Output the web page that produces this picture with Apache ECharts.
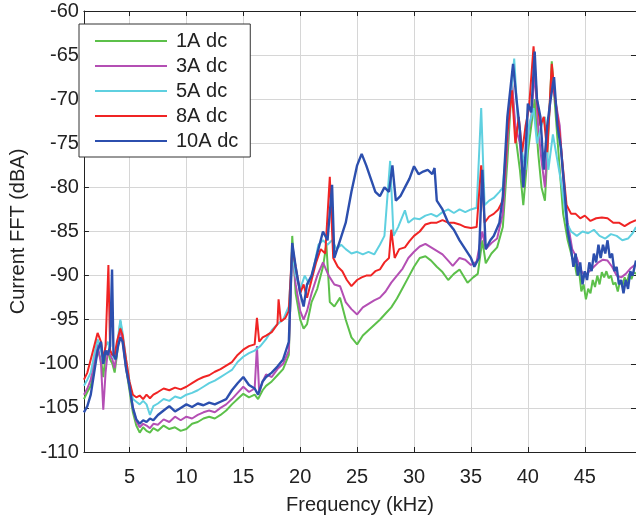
<!DOCTYPE html>
<html><head><meta charset="utf-8">
<script src="https://cdn.jsdelivr.net/npm/echarts@6/dist/echarts.min.js"></script>
<style>html,body{margin:0;padding:0;background:#fff}#c{width:636px;height:520px}</style>
</head><body><div id="c"></div>
<script>
const seriesNames = ['1A dc','3A dc','5A dc','8A dc','10A dc'];
const xTicks = [5,10,15,20,25,30,35,40,45];
const yTicks = [-110,-105,-100,-95,-90,-85,-80,-75,-70,-65,-60];

const s1A = [[1,-104],[1.3,-103.2],[1.6,-102.5],[1.9,-100.5],[2.2,-98.5],[2.5,-99.5],[2.7,-101.5],[2.9,-99],[3.1,-98.5],[3.3,-99.5],[3.5,-100],[3.7,-101],[3.9,-99],[4.2,-95.2],[4.4,-97],[4.7,-100.5],[5,-103],[5.3,-105.5],[5.6,-107],[5.9,-107.8],[6.2,-107.2],[6.5,-107.6],[6.8,-107.8],[7.1,-107.3],[7.5,-107.6],[8,-107],[8.5,-107.4],[9,-107.2],[9.5,-107.6],[10,-107.4],[10.5,-106.8],[11,-106.6],[11.5,-106.2],[12,-106],[12.5,-106.2],[13,-105.8],[13.5,-105.3],[14,-104.6],[14.5,-104],[15,-103.4],[15.5,-103.8],[16,-103.5],[16.3,-104],[16.7,-103],[17,-102.5],[17.5,-102],[18,-101.3],[18.5,-100.6],[19,-99],[19.3,-85.5],[19.6,-92],[20,-95],[20.3,-96],[20.6,-95.5],[21,-93],[21.5,-91.5],[22,-89],[22.3,-86.5],[22.6,-93],[23,-93.5],[23.5,-92.5],[24,-95],[24.5,-97],[25,-97.8],[25.5,-96.8],[26,-96.2],[26.5,-95.6],[27,-95],[27.5,-94.3],[28,-93.6],[28.5,-92.6],[29,-91.4],[29.5,-90.2],[30,-89],[30.5,-88],[31,-87.8],[31.5,-88.3],[32,-89],[32.5,-89.6],[33,-90.5],[33.5,-89.8],[34,-89.3],[34.7,-90.8],[35.2,-90.2],[35.6,-89.8],[36,-86],[36.3,-88.6],[36.8,-87.5],[37.3,-86.8],[37.8,-84.5],[38.2,-77],[38.6,-68],[38.9,-74],[39.3,-78],[39.6,-82],[40,-76],[40.3,-73],[40.6,-70],[40.9,-76],[41.2,-80],[41.5,-81.5],[41.8,-74],[42.1,-65.7],[42.4,-71],[42.8,-78],[43.1,-83],[43.5,-86],[43.9,-88],[44.1,-88.5],[44.3,-90],[44.5,-89.5],[44.7,-91.8],[44.9,-91],[45.1,-92.7],[45.3,-91.5],[45.5,-92],[45.7,-90.5],[45.9,-91.3],[46.1,-90],[46.3,-91],[46.5,-89.6],[46.7,-90.2],[46.9,-89.5],[47.1,-90.3],[47.3,-90],[47.5,-91],[47.7,-90.8],[47.9,-91.8],[48.1,-90.6],[48.3,-91.2],[48.5,-90.2],[48.7,-90.8],[48.9,-89.8],[49.1,-90.4],[49.3,-89.6],[49.5,-89.8]];

const s3A = [[1,-103.5],[1.3,-102.8],[1.6,-101.8],[1.9,-99.8],[2.2,-97.8],[2.5,-100],[2.7,-105.2],[2.9,-101],[3.1,-98.5],[3.3,-99],[3.5,-99.5],[3.7,-100.5],[3.9,-98.5],[4.2,-96],[4.4,-97.5],[4.7,-100.5],[5,-102.5],[5.3,-105],[5.6,-106.5],[5.9,-107.2],[6.2,-106.8],[6.5,-107],[6.8,-107.3],[7.1,-106.8],[7.5,-106.9],[8,-106.3],[8.5,-106.6],[9,-106],[9.5,-106.4],[10,-106],[10.5,-106.2],[11,-105.8],[11.5,-105.5],[12,-105.3],[12.5,-105.5],[13,-105],[13.5,-104.6],[14,-104],[14.5,-103.3],[15,-102.6],[15.5,-103.2],[16,-102.8],[16.2,-98],[16.4,-103.3],[16.7,-102],[17,-101.2],[17.5,-101.5],[18,-100.6],[18.5,-100],[19,-98.5],[19.3,-87],[19.6,-91],[20,-94],[20.3,-95],[20.6,-94],[21,-92],[21.5,-90],[22,-88.5],[22.5,-90],[23,-91],[23.5,-91.2],[24,-93],[24.5,-93.8],[25,-94.4],[25.5,-93.6],[26,-93.2],[26.5,-92.8],[27,-92.5],[27.5,-91.8],[28,-90.8],[28.5,-90],[29,-89.2],[29.5,-88],[30,-87.3],[30.5,-86.7],[31,-86.4],[31.5,-86.8],[32,-87.2],[32.5,-87.6],[33,-88.3],[33.4,-88.9],[34,-88],[34.5,-88.2],[35,-88.8],[35.5,-88.4],[36,-85],[36.3,-87],[36.8,-86.3],[37.3,-85.8],[37.8,-83],[38.2,-75],[38.6,-68],[38.9,-73],[39.3,-75],[39.6,-80],[40,-74],[40.3,-72],[40.6,-67],[40.9,-73],[41.2,-77],[41.5,-80],[41.8,-73],[42.1,-68],[42.4,-70],[42.8,-73],[43.1,-79],[43.5,-84],[43.9,-87],[44.3,-88],[44.7,-89.5],[45,-90],[45.4,-89.5],[45.8,-89],[46.2,-88.5],[46.6,-88.2],[47,-88.3],[47.4,-89],[47.8,-90],[48.2,-90.2],[48.6,-89.8],[49,-89.2],[49.5,-88.7]];

const s5A = [[1,-102.5],[1.3,-101.8],[1.6,-101],[1.9,-99],[2.2,-97.2],[2.5,-98.5],[2.7,-100],[2.9,-98],[3.1,-97.5],[3.3,-98.5],[3.5,-99],[3.7,-99.5],[3.9,-98],[4.2,-95],[4.4,-96.5],[4.7,-99.5],[5,-102],[5.3,-104],[5.6,-104.3],[5.9,-104.6],[6.2,-104.2],[6.5,-104.6],[6.8,-105.8],[7.1,-104.8],[7.5,-104.5],[8,-104],[8.5,-104.2],[9,-103.7],[9.5,-103.9],[10,-103.5],[10.5,-103.3],[11,-103],[11.5,-102.6],[12,-102.2],[12.5,-101.9],[13,-101.5],[13.5,-101.1],[14,-100.7],[14.5,-99.8],[15,-99.2],[15.5,-98.8],[16,-98.5],[16.5,-98],[17,-97.2],[17.5,-96.2],[18,-95.5],[18.5,-95],[19,-93.5],[19.3,-87.5],[19.6,-90],[20,-91.5],[20.4,-90],[20.8,-91],[21.2,-89],[21.6,-86.5],[22,-86],[22.4,-86.5],[22.8,-86],[23.2,-87],[23.6,-86.5],[24,-87],[24.5,-87.5],[25,-87.3],[25.5,-87.6],[26,-87.3],[26.5,-87.6],[27,-86.5],[27.4,-85.5],[27.9,-77],[28.2,-85.5],[28.6,-84.5],[29.2,-82.6],[29.5,-84],[30,-83.5],[30.5,-83.6],[31,-83.2],[31.5,-83],[32,-83.3],[32.5,-82.8],[33,-82.5],[33.5,-82.9],[34,-82.5],[34.5,-82.8],[35,-82.5],[35.5,-82.3],[35.9,-71],[36.2,-82],[36.6,-81.5],[37,-81.2],[37.5,-80.5],[37.8,-80],[38.2,-74],[38.8,-65.4],[39.1,-72],[39.5,-76],[39.8,-78],[40.1,-73],[40.5,-71],[40.8,-75],[41.2,-73],[41.5,-72],[41.8,-78],[42.2,-74],[42.6,-77],[43,-80],[43.4,-84],[43.8,-85],[44.3,-85.5],[44.8,-85],[45.3,-85.2],[45.8,-84.8],[46.3,-85.5],[46.8,-85.8],[47.3,-85.3],[47.8,-85.5],[48.3,-86],[48.8,-85.8],[49.2,-85.2],[49.5,-84.5]];

const s8A = [[1,-101.8],[1.3,-101],[1.6,-99.5],[1.9,-98],[2.2,-96.5],[2.5,-97.5],[2.7,-99.5],[2.9,-98],[3.15,-88.8],[3.3,-98.5],[3.5,-99],[3.7,-99],[3.9,-97.5],[4.2,-96],[4.4,-96.8],[4.7,-99.5],[5,-102],[5.3,-103.5],[5.6,-103.8],[5.9,-103.6],[6.2,-104],[6.5,-103.5],[6.8,-103.9],[7.1,-103.5],[7.5,-103.2],[8,-102.8],[8.5,-103],[9,-102.7],[9.5,-102.9],[10,-102.6],[10.5,-102.2],[11,-101.8],[11.5,-101.5],[12,-101.3],[12.5,-100.9],[13,-100.6],[13.5,-100.2],[14,-99.8],[14.5,-99],[15,-98.4],[15.5,-98],[16,-97.8],[16.2,-94.8],[16.4,-97.5],[16.7,-97],[17,-96.8],[17.5,-96.4],[18,-95.5],[18.1,-92.7],[18.3,-95.2],[18.7,-94.8],[19,-94],[19.3,-86.7],[19.6,-89],[20,-92],[20.3,-91],[20.6,-92.5],[21,-90.5],[21.4,-88.5],[21.8,-87],[22.2,-87.5],[22.6,-78.8],[22.9,-88],[23.3,-89],[23.7,-89.5],[24.1,-90.5],[24.5,-91.2],[25,-90.5],[25.4,-90.2],[25.8,-90],[26.2,-90],[26.6,-89.5],[27,-89.3],[27.4,-88.5],[27.8,-88],[28,-84.8],[28.3,-88],[28.7,-87],[29.2,-86.8],[29.6,-86.1],[30,-85.5],[30.5,-85],[31,-84.2],[31.5,-84],[32,-84],[32.5,-83.7],[33,-84],[33.5,-84],[34,-84.2],[34.5,-84.5],[35,-84.6],[35.5,-84.5],[35.9,-77.5],[36.2,-84],[36.6,-83.3],[37,-83],[37.4,-82.5],[37.8,-81.5],[38.2,-74],[38.6,-69],[38.9,-75],[39.2,-72],[39.5,-76],[39.8,-73],[40.1,-71],[40.5,-64],[40.8,-70],[41.1,-73],[41.4,-72],[41.7,-76],[42.1,-66],[42.4,-70],[42.8,-74],[43.1,-78],[43.4,-82],[43.8,-83],[44.2,-83],[44.6,-83.5],[45,-83.2],[45.5,-83.8],[46,-83.5],[46.5,-83.4],[47,-83.5],[47.5,-84],[48,-84],[48.5,-84.4],[49,-84],[49.5,-83.7]];

const s10A = [[1,-105.5],[1.3,-104.8],[1.6,-103.5],[1.9,-101],[2.2,-98.5],[2.5,-97.5],[2.7,-100],[2.9,-98.5],[3.1,-99],[3.3,-98],[3.47,-89.3],[3.6,-99],[3.8,-99.5],[4,-98],[4.2,-97],[4.4,-97.5],[4.7,-100.5],[5,-102.5],[5.3,-105],[5.6,-106.3],[5.9,-106.8],[6.2,-106.4],[6.5,-106.6],[6.8,-106.2],[7.1,-106.4],[7.5,-105.8],[8,-105.3],[8.5,-104.8],[9,-105.4],[9.5,-105],[10,-104.6],[10.5,-104.9],[11,-104.5],[11.5,-104.7],[12,-104.4],[12.5,-104.6],[13,-104.3],[13.5,-104],[14,-103],[14.5,-102.2],[15,-101.5],[15.5,-102.4],[16,-102.8],[16.3,-103.5],[16.7,-102],[17,-101.5],[17.5,-101],[18,-100.3],[18.5,-99.5],[19,-97.5],[19.3,-86.3],[19.6,-89],[20,-92],[20.3,-93.5],[20.6,-91],[21,-90],[21.5,-87.5],[22,-85],[22.4,-86],[22.8,-79.7],[23,-88],[23.5,-86],[24,-84],[24.5,-80.5],[25,-77.5],[25.4,-76.2],[25.8,-77.5],[26.2,-79],[26.6,-80.5],[27,-81],[27.4,-80],[27.8,-80.5],[28.1,-77.5],[28.4,-81.5],[28.8,-81],[29.2,-80],[29.6,-79],[30,-77.6],[30.4,-78.5],[30.8,-78.2],[31.2,-78],[31.6,-78.5],[31.8,-77.8],[32,-81.5],[32.5,-82.5],[33,-84],[33.5,-84.8],[34,-86],[34.5,-87],[35,-88],[35.3,-89],[35.7,-88],[36,-78],[36.3,-87],[36.7,-86],[37,-85.5],[37.5,-84],[37.8,-81],[38.2,-72],[38.7,-66],[39,-70],[39.3,-73.5],[39.6,-80],[39.8,-76],[40,-70.5],[40.3,-71.5],[40.6,-64.6],[40.8,-70],[41.1,-72],[41.4,-78],[41.7,-73],[42,-70],[42.3,-67.5],[42.6,-73],[42.9,-75.5],[43.2,-80],[43.5,-85],[43.8,-87],[44,-89],[44.2,-87.5],[44.4,-90],[44.6,-88.5],[44.8,-91],[45,-89.5],[45.2,-90.5],[45.4,-88.5],[45.6,-89.5],[45.8,-87.5],[46,-88.5],[46.2,-86.5],[46.4,-88],[46.6,-86.5],[46.8,-87.5],[47,-86],[47.2,-88],[47.4,-87.5],[47.6,-89.5],[47.8,-89],[48,-91],[48.2,-90.5],[48.4,-92],[48.6,-90.5],[48.8,-91.5],[49,-89.5],[49.2,-90],[49.5,-88.3]];

const colors = ['#5cc04a','#b44fb4','#5fd0e0','#f02424','#2c4fae'];
const allData = [s1A, s3A, s5A, s8A, s10A];

const chart = echarts.init(document.getElementById('c'), null, {renderer:'canvas'});
const font = 'Liberation Sans, Arial, sans-serif';
const xCommon = {
  type:'value', min:1, max:49.5,
  axisLine:{show:true, lineStyle:{color:'#222', width:1}},
  axisTick:{show:true, inside:true, length:5, customValues:xTicks, lineStyle:{color:'#222'}},
};
const option = {
  animation:false,
  backgroundColor:'#fff',
  grid:{left:67, right:0, top:11, bottom:64},
  legend:{
    orient:'vertical', left:79, top:24,
    data:seriesNames.map(n=>({name:n, icon:'rect'})),
    backgroundColor:'#fff', borderColor:'#333', borderWidth:1,
    padding:[7,12,6,16],
    itemWidth:72, itemHeight:2, itemGap:5,
    textStyle:{fontFamily:font, fontSize:20, color:'#222', lineHeight:20, padding:[0,0,0,4]}
  },
  xAxis:[
    Object.assign({}, xCommon, {
      position:'bottom',
      name:'Frequency (kHz)', nameLocation:'middle', nameGap:43,
      nameTextStyle:{fontFamily:font, fontSize:20, color:'#222'},
      axisLabel:{show:true, customValues:xTicks, fontFamily:font, fontSize:20, color:'#222', margin:15},
      splitLine:{show:false}
    }),
    Object.assign({}, xCommon, {
      position:'top',
      axisLabel:{show:false},
      splitLine:{show:false}
    })
  ],
  yAxis:[
    {
      type:'value', min:-110, max:-60, interval:5, position:'left',
      name:'Current FFT (dBA)', nameLocation:'middle', nameGap:50,
      nameTextStyle:{fontFamily:font, fontSize:20, color:'#222'},
      axisLine:{show:true, lineStyle:{color:'#222'}},
      axisTick:{show:true, inside:true, length:5, lineStyle:{color:'#222'}},
      axisLabel:{fontFamily:font, fontSize:20, color:'#222', margin:5},
      splitLine:{show:true, lineStyle:{color:'#d6d6d6', width:1}}
    },
    {
      type:'value', min:-110, max:-60, interval:5, position:'right',
      axisLine:{show:false},
      axisTick:{show:true, inside:true, length:5, lineStyle:{color:'#222'}},
      axisLabel:{show:false},
      splitLine:{show:false}
    }
  ],
  series: allData.map((d,i)=>({
    name:seriesNames[i], type:'line', data:d,
    xAxisIndex:0, yAxisIndex:0,
    symbol:'none', showSymbol:false,
    lineStyle:{color:colors[i], width: i===4 ? 2.4 : 2},
    itemStyle:{color:colors[i]},
    z: 2+i,
    markLine: i===0 ? {
      silent:true, symbol:['none','none'], label:{show:false},
      lineStyle:{color:'#d6d6d6', type:'solid', width:1},
      data: xTicks.map(v=>({xAxis:v}))
    } : undefined
  }))
};
option.series[0].markLine.z = 0;
chart.setOption(option);
</script>
</body></html>
